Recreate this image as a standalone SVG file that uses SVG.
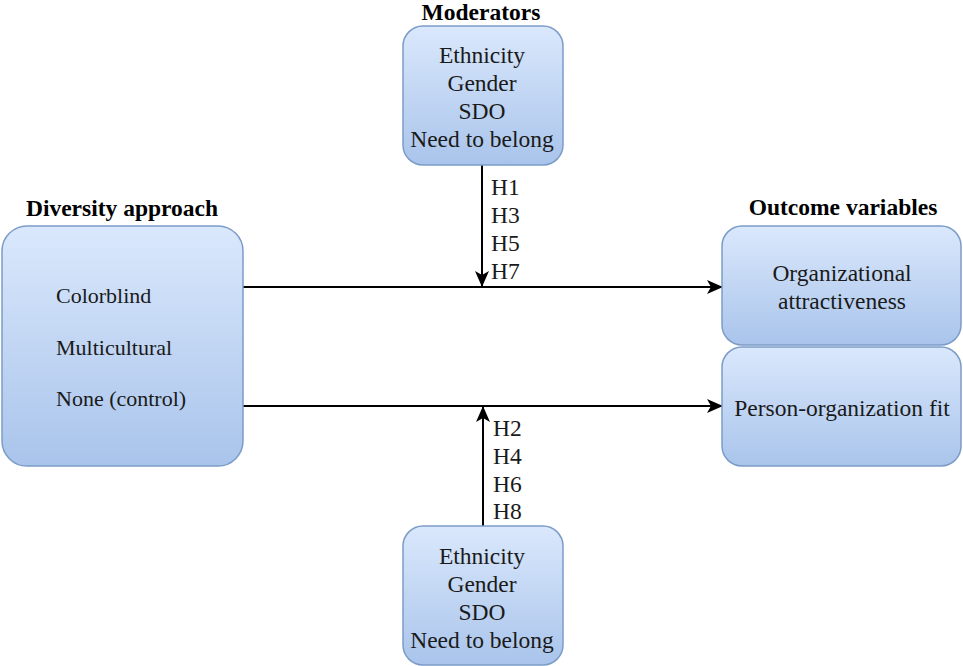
<svg xmlns="http://www.w3.org/2000/svg" width="963" height="666" viewBox="0 0 963 666">
<defs>
<linearGradient id="g" x1="0" y1="0" x2="0" y2="1">
<stop offset="0" stop-color="#dae8fc"/>
<stop offset="1" stop-color="#a9c4eb"/>
</linearGradient>
<marker id="arr" viewBox="0 0 16 14" refX="15" refY="7" markerWidth="16" markerHeight="14" markerUnits="userSpaceOnUse" orient="auto">
<path d="M0,0 L16,7 L0,14 L4,7 Z" fill="#000"/>
</marker>
<style>
.box{fill:url(#g);stroke:#7c9cc8;stroke-width:1.5}
.t{font-family:"Liberation Serif","Times New Roman",serif;font-size:23.5px;fill:#1a1a1a}
.s{font-family:"Liberation Serif","Times New Roman",serif;font-size:22px;fill:#1a1a1a}
.b{font-family:"Liberation Serif","Times New Roman",serif;font-size:23.5px;font-weight:bold;fill:#000}
.c{text-anchor:middle}
.ln{stroke:#000;stroke-width:2;fill:none}
</style>
</defs>
<rect width="963" height="666" fill="#fff"/>
<g id="connectors">
<line class="ln" x1="243" y1="287" x2="722" y2="287" marker-end="url(#arr)"/>
<line class="ln" x1="243" y1="406" x2="722" y2="406" marker-end="url(#arr)"/>
<line class="ln" x1="482" y1="165" x2="482" y2="286" marker-end="url(#arr)" stroke="#333"/>
<line class="ln" x1="483" y1="526" x2="483" y2="407" marker-end="url(#arr)" stroke="#333"/>
<text class="t" x="491" y="195">H1</text>
<text class="t" x="491" y="223">H3</text>
<text class="t" x="491" y="251">H5</text>
<text class="t" x="491" y="279">H7</text>
<text class="t" x="493" y="436">H2</text>
<text class="t" x="493" y="464">H4</text>
<text class="t" x="493" y="492">H6</text>
<text class="t" x="493" y="519">H8</text>
</g>
<g id="moderators-top">
<text class="b c" x="481" y="20">Moderators</text>
<rect class="box" x="403" y="26" width="160" height="139" rx="20" ry="20"/>
<text class="t c" x="482" y="63">Ethnicity</text>
<text class="t c" x="482" y="91">Gender</text>
<text class="t c" x="482" y="119">SDO</text>
<text class="t c" x="482" y="147">Need to belong</text>
</g>
<g id="diversity-approach">
<text class="b c" x="122" y="216">Diversity approach</text>
<rect class="box" x="2" y="226" width="241" height="240" rx="25" ry="25"/>
<text class="s" x="56" y="303">Colorblind</text>
<text class="s" x="56" y="355">Multicultural</text>
<text class="s" x="56" y="406">None (control)</text>
</g>
<g id="org-attractiveness">
<text class="b c" x="843" y="215">Outcome variables</text>
<rect class="box" x="722" y="226" width="239" height="119" rx="20" ry="20"/>
<text class="t c" x="842" y="281">Organizational</text>
<text class="t c" x="842" y="309">attractiveness</text>
</g>
<g id="person-org-fit">
<rect class="box" x="722" y="347" width="239" height="119" rx="20" ry="20"/>
<text class="t c" x="842" y="416">Person-organization fit</text>
</g>
<g id="moderators-bottom">
<rect class="box" x="403" y="526" width="160" height="139" rx="20" ry="20"/>
<text class="t c" x="482" y="564">Ethnicity</text>
<text class="t c" x="482" y="592">Gender</text>
<text class="t c" x="482" y="620">SDO</text>
<text class="t c" x="482" y="648">Need to belong</text>
</g>
</svg>
